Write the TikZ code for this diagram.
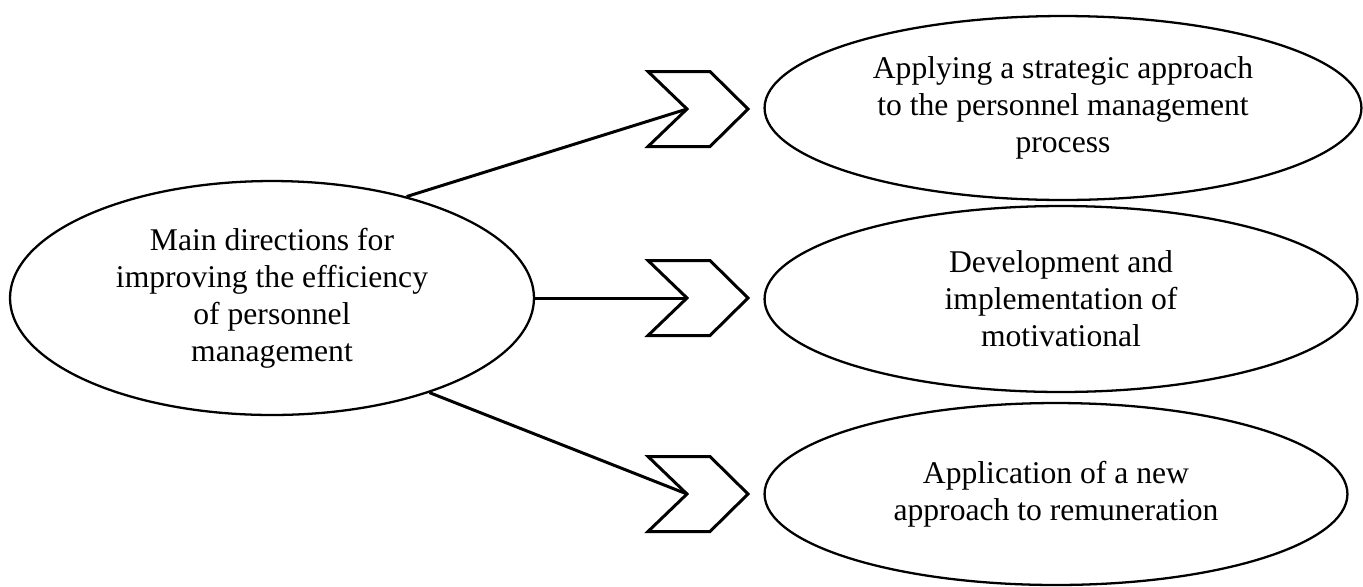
\documentclass[tikz,border=0pt]{standalone}
\usepackage{fontspec}
\setmainfont{Liberation Serif}
\usetikzlibrary{shapes.geometric}
\begin{document}
\begin{tikzpicture}
	[x=0.02cm,y=-0.02cm,
	every node/.style={ellipse,draw,line width=1.3pt,inner sep=0pt,align=center,
		font=\fontsize{18}{21}\selectfont},
	link/.style={line width=1.7pt},
	chev/.pic={\draw[line width=1.7pt] (-39,-37.5) -- (23,-37.5) -- (61,0) -- (23,37.5) -- (-39,37.5) -- (0,0) -- cycle;}
	]
	\useasboundingbox (0,0) rectangle (1363,586);
	\node[minimum width=10.48cm,minimum height=4.68cm] (dir) at (272,298)
		{Main directions for\\improving the efficiency\\of personnel\\management};
	\node[minimum width=11.94cm,minimum height=3.68cm] (strat) at (1063,108)
		{Applying a strategic approach\\to the personnel management\\process};
	\node[minimum width=11.86cm,minimum height=3.72cm] (motiv) at (1061,299)
		{Development and\\implementation of\\motivational};
	\node[minimum width=11.66cm,minimum height=3.64cm] (pay) at (1056,494)
		{Application of a new\\approach to remuneration};
	\coordinate (n1) at (687,109);
	\coordinate (n2) at (687,298);
	\coordinate (n3) at (687,494);
	\pic at (n1) {chev};
	\pic at (n2) {chev};
	\pic at (n3) {chev};
	\draw[link] (dir.37) -- (n1);
	\draw[link] (dir.east) -- (n2);
	\draw[link] (dir.-31) -- (n3);
\end{tikzpicture}
\end{document}
